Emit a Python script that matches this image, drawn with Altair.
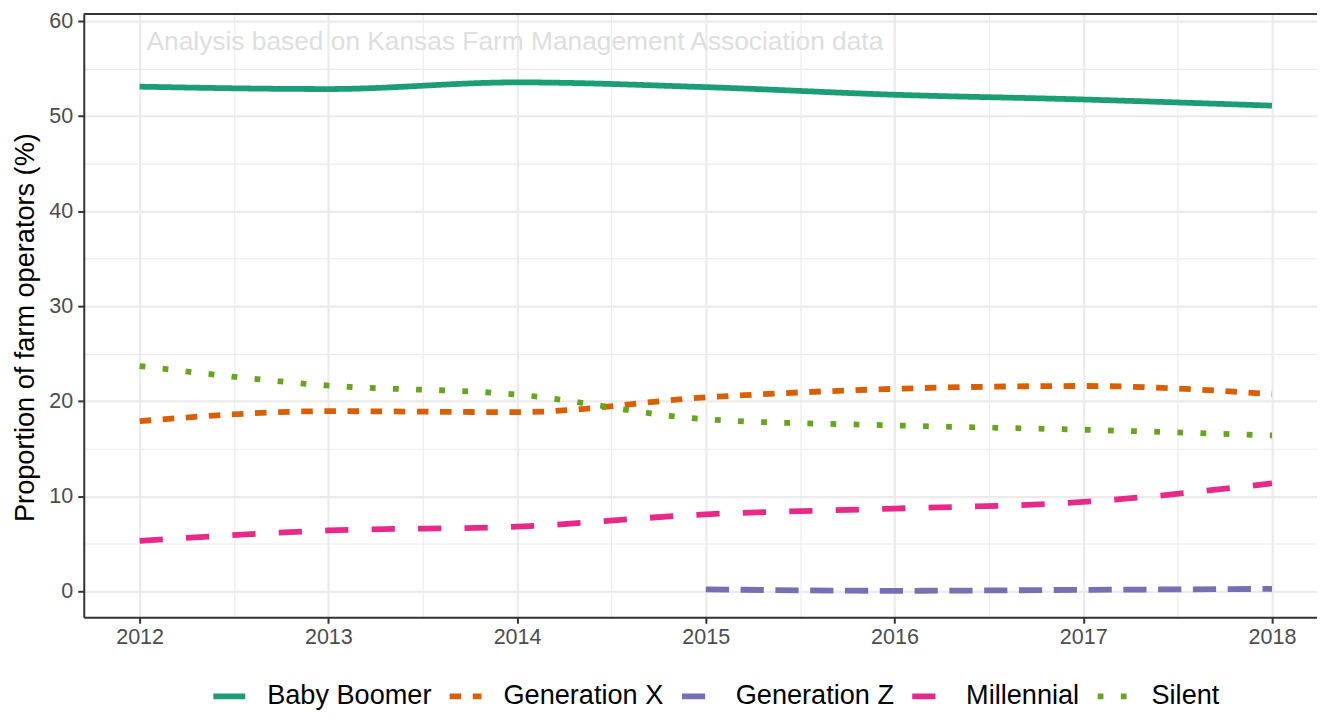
import altair as alt
import pandas as pd

years = [2012, 2013, 2014, 2015, 2016, 2017, 2018]
generations = ["Baby Boomer", "Generation X", "Generation Z", "Millennial", "Silent"]
baby_boomer = [53.1, 52.85, 53.55, 53.05, 52.25, 51.75, 51.1]
generation_x = [17.9, 18.95, 18.85, 20.4, 21.3, 21.6, 20.75]
generation_z_years = [2015, 2016, 2017, 2018]
generation_z = [0.2, 0.05, 0.15, 0.25]
millennial = [5.3, 6.4, 6.8, 8.1, 8.7, 9.4, 11.35]
silent = [23.7, 21.65, 20.7, 18.1, 17.45, 17.0, 16.4]
annotation = "Analysis based on Kansas Farm Management Association data"
y_title = "Proportion of farm operators (%)"
x_ticks = [2012 + 0.5 * i for i in range(13)]
y_ticks = [5 * i for i in range(13)]

colors = ["#1B9E77", "#D95F02", "#7570B3", "#E7298A", "#66A61E"]
dashes = [[1, 0], [11.6, 11.6], [23.3, 11.6], [23.3, 23.3], [5.8, 17.4]]

rows = []
for name, ys, xs in [
    ("Baby Boomer", baby_boomer, years),
    ("Generation X", generation_x, years),
    ("Generation Z", generation_z, generation_z_years),
    ("Millennial", millennial, years),
    ("Silent", silent, years),
]:
    for x, y in zip(xs, ys):
        rows.append({"year": x, "value": y, "generation": name})
df = pd.DataFrame(rows)

W, H = 1237, 605
X_MAX = 2011.704 + W / 189.3
FONT = "Liberation Sans"

legend = alt.Legend(
    title=None, orient="none", direction="horizontal", legendX=127, legendY=665,
    symbolType="stroke", symbolSize=1024, symbolStrokeWidth=5.8,
    labelFont=FONT, labelFontSize=27.2, labelColor="#000000", labelOffset=19,
    columnPadding=6, padding=0, labelLimit=400,
)

x_axis = alt.Axis(
    values=x_ticks, title=None,
    labelExpr="datum.value % 1 === 0 ? format(datum.value, 'd') : ''",
    labelFont=FONT, labelFontSize=21.6, labelColor="#4D4D4D", labelPadding=3,
    labelFlush=False, labelOverlap=False,
    tickColor="#333333", tickWidth=2, tickSize=6,
    tickOpacity={"condition": {"test": "datum.value % 1 === 0", "value": 1}, "value": 0},
    domainColor="#333333", domainWidth=2,
    gridColor="#EBEBEB",
    gridWidth={"condition": {"test": "datum.value % 1 === 0", "value": 2.2}, "value": 1.1},
)
y_axis = alt.Axis(
    values=y_ticks, title=y_title,
    labelExpr="datum.value % 10 === 0 ? format(datum.value, 'd') : ''",
    labelFont=FONT, labelFontSize=21.6, labelColor="#4D4D4D", labelPadding=5,
    labelFlush=False, labelOverlap=False,
    tickColor="#333333", tickWidth=2, tickSize=6,
    tickOpacity={"condition": {"test": "datum.value % 10 === 0", "value": 1}, "value": 0},
    domainColor="#333333", domainWidth=2,
    gridColor="#EBEBEB",
    gridWidth={"condition": {"test": "datum.value % 10 === 0", "value": 2.2}, "value": 1.1},
    titleFont=FONT, titleFontSize=27.2, titleFontWeight="normal", titleColor="#000000",
    titleX=-50.5, titleY=314, titleAngle=270, titleAlign="center", titleBaseline="alphabetic",
)

lines = alt.Chart(df).mark_line(interpolate="monotone", strokeWidth=5.8, strokeCap="butt").encode(
    x=alt.X("year:Q", scale=alt.Scale(domain=[2011.704, X_MAX], nice=False, zero=False), axis=x_axis),
    y=alt.Y("value:Q", scale=alt.Scale(domain=[-2.73, 60.74], nice=False, zero=False), axis=y_axis),
    color=alt.Color("generation:N", scale=alt.Scale(domain=generations, range=colors), legend=legend),
    strokeDash=alt.StrokeDash("generation:N", scale=alt.Scale(domain=generations, range=dashes), legend=legend),
)

note = alt.Chart(pd.DataFrame({"t": [annotation]})).mark_text(
    align="left", baseline="alphabetic", font=FONT, fontSize=26.4, color="#DEDEDE"
).encode(x=alt.value(63), y=alt.value(36.5), text="t:N")

top_border = alt.Chart(pd.DataFrame({"t": [0]})).mark_rule(color="#333333", strokeWidth=2).encode(
    x=alt.value(0), x2=alt.value(W), y=alt.value(0)
)

chart = alt.layer(note, lines, top_border).properties(
    width=W, height=H,
    autosize=alt.AutoSizeParams(type="none"),
    padding={"left": 76, "top": 5, "right": 0, "bottom": 94},
).configure_view(stroke=None).configure(background="white")

chart.save("out.html", embed_options={"renderer": "svg", "actions": False})
